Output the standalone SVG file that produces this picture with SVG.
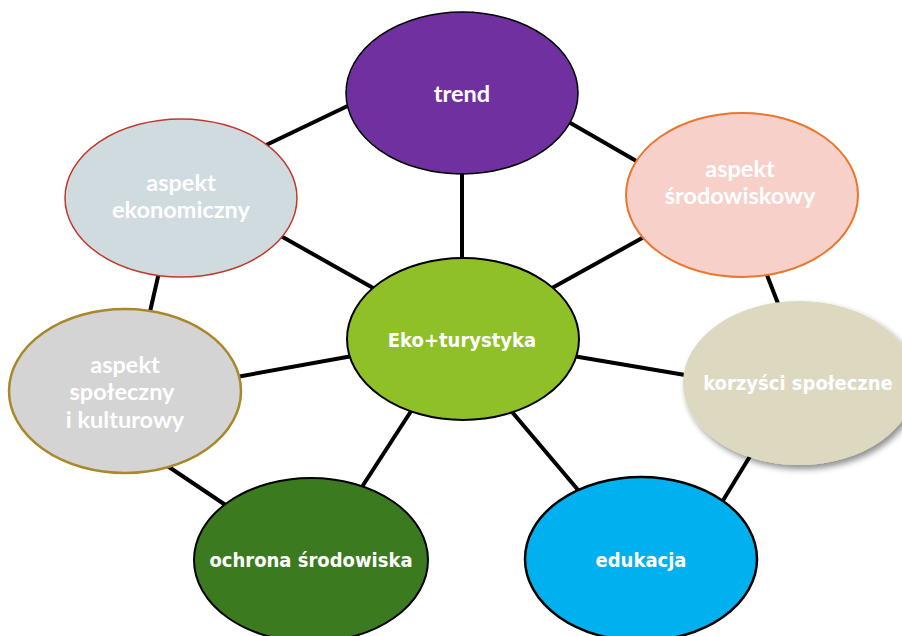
<svg xmlns="http://www.w3.org/2000/svg" width="902" height="636" viewBox="0 0 902 636">
  <defs>
    <filter id="shadow" x="-20%" y="-20%" width="140%" height="140%">
      <feGaussianBlur in="SourceAlpha" stdDeviation="3"/>
      <feOffset dx="3" dy="4" result="b"/>
      <feComponentTransfer><feFuncA type="linear" slope="0.45"/></feComponentTransfer>
      <feMerge><feMergeNode/><feMergeNode in="SourceGraphic"/></feMerge>
    </filter>
  </defs>
  <style>
    .link { stroke: #000; stroke-width: 4; fill: none; }
    .h { font-family: "Lato", "Open Sans", sans-serif; font-weight: bold; font-size: 23.5px; fill: #fff; text-anchor: middle; }
    .t { font-family: "DejaVu Sans Condensed", "DejaVu Sans", Verdana, sans-serif; font-stretch: condensed; font-weight: bold; font-size: 20px; fill: #fff; text-anchor: middle; }
  </style>
  <rect width="902" height="636" fill="#fff"/>

  <!-- connectors, drawn beneath the nodes -->
  <g id="connectors">
    <line class="link" x1="462" y1="165" x2="462" y2="265"/>
    <line class="link" x1="262" y1="147" x2="358" y2="101"/>
    <line class="link" x1="560" y1="117" x2="645" y2="166"/>
    <line class="link" x1="272" y1="231" x2="382" y2="293"/>
    <line class="link" x1="653" y1="232" x2="543" y2="293"/>
    <line class="link" x1="160" y1="268" x2="149" y2="316"/>
    <line class="link" x1="765" y1="270" x2="779" y2="306"/>
    <line class="link" x1="231" y1="378" x2="358" y2="355"/>
    <line class="link" x1="567" y1="355" x2="697" y2="377"/>
    <line class="link" x1="163" y1="463" x2="230" y2="508"/>
    <line class="link" x1="752" y1="453" x2="719" y2="507"/>
    <line class="link" x1="415" y1="405" x2="358" y2="493"/>
    <line class="link" x1="507" y1="406" x2="584" y2="497"/>
  </g>

  <g id="trend">
    <ellipse cx="462" cy="93" rx="116" ry="81" fill="#7030A0" stroke="#000" stroke-width="1.5"/>
    <text class="h" x="462" y="102">trend</text>
  </g>

  <g id="aspekt-ekonomiczny">
    <ellipse cx="181" cy="198" rx="116" ry="79" fill="#D0DBDF" stroke="#C0392B" stroke-width="1.5"/>
    <text class="h" x="181" y="191">aspekt</text>
    <text class="h" x="181" y="218">ekonomiczny</text>
  </g>

  <g id="aspekt-srodowiskowy">
    <ellipse cx="742" cy="195" rx="116" ry="82" fill="#F7D0CA" stroke="#E9772E" stroke-width="2"/>
    <text class="h" x="740" y="177">aspekt</text>
    <text class="h" x="740" y="204">środowiskowy</text>
  </g>

  <g id="aspekt-spoleczny">
    <ellipse cx="125" cy="391" rx="116" ry="82" fill="#D4D4D4" stroke="#A8882A" stroke-width="2.5"/>
    <text class="h" x="125" y="373">aspekt</text>
    <text class="h" x="122" y="400">społeczny</text>
    <text class="h" x="125" y="428">i kulturowy</text>
  </g>

  <g id="korzysci-spoleczne">
    <ellipse cx="799" cy="383" rx="116" ry="82" fill="#DDD8C0" filter="url(#shadow)"/>
    <text class="t" x="798" y="390">korzyści społeczne</text>
  </g>

  <g id="ochrona-srodowiska">
    <ellipse cx="311" cy="560" rx="117" ry="82" fill="#3C7A1F" stroke="#000" stroke-width="2"/>
    <text class="t" x="311" y="567">ochrona środowiska</text>
  </g>

  <g id="edukacja">
    <ellipse cx="641" cy="559" rx="116" ry="82" fill="#00B0EF" stroke="#000" stroke-width="2.5"/>
    <text class="t" x="641" y="567">edukacja</text>
  </g>

  <g id="eko-turystyka">
    <ellipse cx="463" cy="339" rx="116" ry="81" fill="#8FC027" stroke="#000" stroke-width="2"/>
    <text class="t" x="462" y="347">Eko+turystyka</text>
  </g>
</svg>
